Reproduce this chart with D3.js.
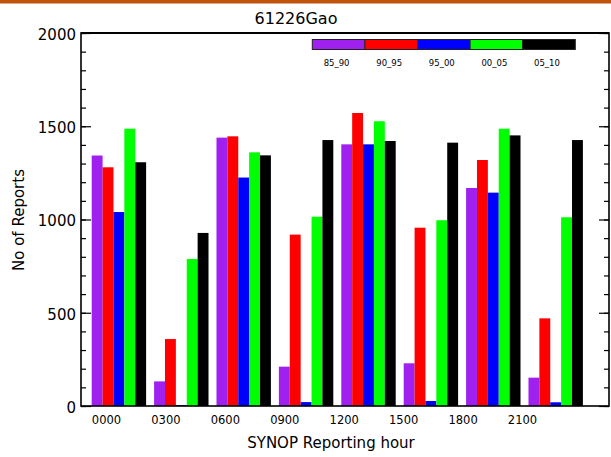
<!DOCTYPE html>
<html>
<head>
<meta charset="utf-8">
<script src="https://cdn.jsdelivr.net/npm/d3@7"></script>
<style>
  html, body { margin: 0; padding: 0; background: #fff; }
  svg { display: block; }
  text { font-family: "DejaVu Sans", sans-serif; fill: #000; }
</style>
</head>
<body>
<svg id="chart" width="611" height="457"></svg>
<script>
// SYNOP report counts per reporting hour, station 61226 (Gao), by 5-year period
const hours = ["0000", "0300", "0600", "0900", "1200", "1500", "1800", "2100"];
const periods = ["85_90", "90_95", "95_00", "00_05", "05_10"];
const colors = ["#a020f0", "#ff0000", "#0000ff", "#00ff00", "#000000"];

const p85_90 = [1343, 132, 1439, 211, 1403, 229, 1169, 152];
const p90_95 = [1280, 359, 1446, 919, 1571, 956, 1319, 470];
const p95_00 = [1040, 5, 1225, 21, 1403, 27, 1144, 20];
const p00_05 = [1487, 788, 1360, 1015, 1527, 996, 1487, 1012];
const p05_10 = [1307, 928, 1344, 1426, 1421, 1412, 1451, 1426];
const seriesValues = [p85_90, p90_95, p95_00, p00_05, p05_10];

const yMajorTicks = [0, 500, 1000, 1500, 2000];
const yMinorTicks = d3.range(0, 2001, 100);

const svg = d3.select("#chart");

// plot frame
const frame = { left: 81, right: 609, top: 33, bottom: 406 };

// header rule
svg.append("rect")
  .attr("x", 0).attr("y", 0).attr("width", 611).attr("height", 3.5)
  .attr("fill", "#be550a");

const y = d3.scaleLinear().domain([0, 2000]).range([frame.bottom, frame.top]);

const xGroup = d3.scaleBand().domain(hours).range([91.7, 582.9]).paddingInner(0.128).paddingOuter(0);
const xBar = d3.scaleBand().domain(periods).range([0, xGroup.bandwidth()]);
const xLabel = d3.scalePoint().domain(hours).range([106, 522]);

// bars
const groups = svg.append("g").selectAll("g")
  .data(hours)
  .join("g")
  .attr("transform", d => `translate(${xGroup(d)},0)`);

groups.selectAll("rect")
  .data((h, i) => periods.map((p, k) => ({ period: p, k, value: seriesValues[k][i] })))
  .join("rect")
  .attr("x", d => xBar(d.period))
  .attr("width", xBar.bandwidth())
  .attr("y", d => y(d.value))
  .attr("height", d => y(0) - y(d.value))
  .attr("fill", d => colors[d.k]);

// frame box
svg.append("rect")
  .attr("x", frame.left).attr("y", frame.top)
  .attr("width", frame.right - frame.left).attr("height", frame.bottom - frame.top)
  .attr("fill", "none").attr("stroke", "#000").attr("stroke-width", 1.6);
svg.append("line")
  .attr("x1", frame.left).attr("x2", frame.right)
  .attr("y1", frame.top).attr("y2", frame.top)
  .attr("stroke", "#000").attr("stroke-width", 2.2);

// left axis: inward ticks, labels outside
const leftMinor = svg.append("g").attr("transform", `translate(${frame.left},0)`)
  .call(d3.axisLeft(y).tickValues(yMinorTicks).tickSize(-5).tickFormat(""));
const leftMajor = svg.append("g").attr("transform", `translate(${frame.left},0)`)
  .call(d3.axisLeft(y).tickValues(yMajorTicks).tickSize(-10).tickPadding(5).tickFormat(d3.format("d")));
// right axis: inward ticks, no labels
const rightMinor = svg.append("g").attr("transform", `translate(${frame.right},0)`)
  .call(d3.axisRight(y).tickValues(yMinorTicks).tickSize(-5).tickFormat(""));
const rightMajor = svg.append("g").attr("transform", `translate(${frame.right},0)`)
  .call(d3.axisRight(y).tickValues(yMajorTicks).tickSize(-10).tickFormat(""));

[leftMinor, leftMajor, rightMinor, rightMajor].forEach(g => {
  g.select(".domain").remove();
  g.selectAll(".tick line").attr("stroke", "#000").attr("stroke-width", 1.2);
});
leftMajor.selectAll(".tick text")
  .style("font-family", "'DejaVu Sans', sans-serif")
  .style("font-size", "15px")
  .attr("dy", "0.42em");

// bottom hour labels
const bottom = svg.append("g").attr("transform", `translate(0,${frame.bottom})`)
  .call(d3.axisBottom(xLabel).tickSize(0).tickPadding(10));
bottom.select(".domain").remove();
bottom.selectAll(".tick text")
  .style("font-family", "'DejaVu Sans', sans-serif")
  .style("font-size", "11.5px");

// titles
svg.append("text")
  .attr("x", 296).attr("y", 24)
  .attr("text-anchor", "middle")
  .style("font-size", "16px")
  .text("61226Gao");

svg.append("text")
  .attr("x", 331).attr("y", 448)
  .attr("text-anchor", "middle")
  .style("font-size", "15px")
  .text("SYNOP Reporting hour");

svg.append("text")
  .attr("transform", "translate(24,220) rotate(-90)")
  .attr("text-anchor", "middle")
  .style("font-size", "15px")
  .text("No of Reports");

// legend: colour strip with period labels beneath
const legendX = d3.scaleBand().domain(periods).range([312.3, 575.3]);
const legend = svg.append("g");
legend.selectAll("rect")
  .data(periods)
  .join("rect")
  .attr("x", d => legendX(d))
  .attr("y", 39.5)
  .attr("width", legendX.bandwidth())
  .attr("height", 10)
  .attr("fill", (d, i) => colors[i])
  .attr("stroke", "#222")
  .attr("stroke-width", 1);
legend.selectAll("text")
  .data(periods)
  .join("text")
  .attr("x", d => legendX(d) + legendX.bandwidth() / 2 - 2)
  .attr("y", 65.5)
  .attr("text-anchor", "middle")
  .style("font-size", "8.5px")
  .text(d => d);
</script>
</body>
</html>
